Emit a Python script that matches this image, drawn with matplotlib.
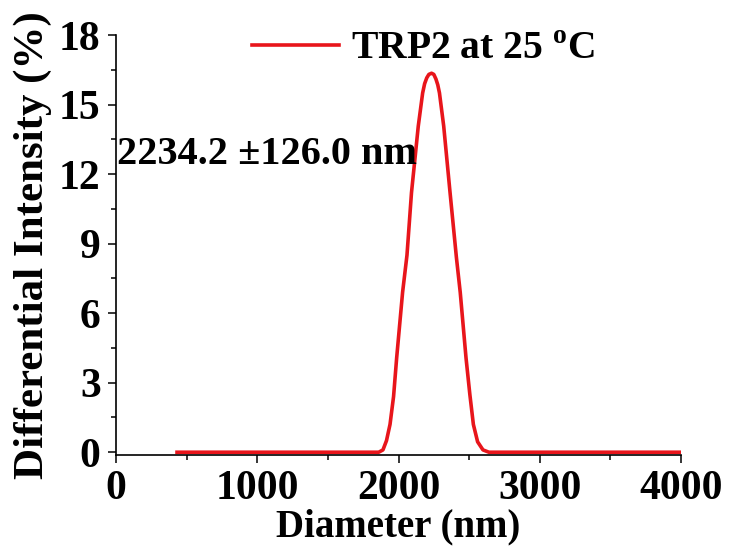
import numpy as np
import matplotlib.pyplot as plt
from matplotlib.ticker import MultipleLocator

plt.rcParams['font.family'] = 'Liberation Serif'
plt.rcParams['font.weight'] = 'bold'
plt.rcParams['mathtext.fontset'] = 'custom'
plt.rcParams['mathtext.rm'] = 'Liberation Serif:bold'
plt.rcParams['mathtext.bf'] = 'Liberation Serif:bold'

# valores
diameter = [432, 1000, 1500, 1800, 1860, 1890, 1915, 1940, 1965, 1987, 2029,
            2060, 2092, 2140, 2171, 2185, 2200, 2215, 2234, 2250, 2265, 2278,
            2290, 2320, 2365, 2410, 2437, 2478, 2505, 2530, 2560, 2598, 2640,
            3000, 3500, 4000]
intensity = [0, 0, 0, 0, 0, 0.1, 0.5, 1.2, 2.4, 4.07, 6.9,
             8.5, 11.2, 14.07, 15.5, 15.9, 16.15, 16.3, 16.35, 16.3, 16.1, 15.85,
             15.5, 14.07, 11.2, 8.4, 6.9, 4.07, 2.5, 1.2, 0.45, 0.1, 0,
             0, 0, 0]
label = r'TRP2 at 25 $^{\mathrm{o}}$C'
note = '2234.2 \u00b1126.0 nm'

fig = plt.figure(figsize=(7.35, 5.59), dpi=100)
ax = fig.add_axes([116/735, 104/559, 565/735, 420/559])

ax.plot(diameter, intensity, color='#e8151b', lw=2.6, label=label,
        solid_joinstyle='round')

ax.set_xlim(0, 4000)
ax.set_ylim(-0.12, 18)
ax.xaxis.set_major_locator(MultipleLocator(1000))
ax.xaxis.set_minor_locator(MultipleLocator(500))
ax.yaxis.set_major_locator(MultipleLocator(3))
ax.yaxis.set_minor_locator(MultipleLocator(1.5))

for s in ['top', 'right']:
    ax.spines[s].set_visible(False)
for s in ['left', 'bottom']:
    ax.spines[s].set_linewidth(1.2)

ax.tick_params(which='major', direction='out', length=6, width=1.1,
               labelsize=30, pad=5)
ax.tick_params(which='minor', direction='out', length=3.5, width=1.1)

ax.set_xlabel('Diameter (nm)', fontsize=28, fontweight='bold', labelpad=0)
ax.set_ylabel('Differential Intensity (%)', fontsize=31, fontweight='bold',
              labelpad=5)

ax.text(5, 12.85, note, fontsize=29, fontweight='bold', ha='left', va='center')

ax.legend(loc='upper center', bbox_to_anchor=(0.545, 1.095), frameon=False,
          fontsize=28.5, handlelength=2.2, handletextpad=0.3)

fig.savefig('out.png', dpi=100)
